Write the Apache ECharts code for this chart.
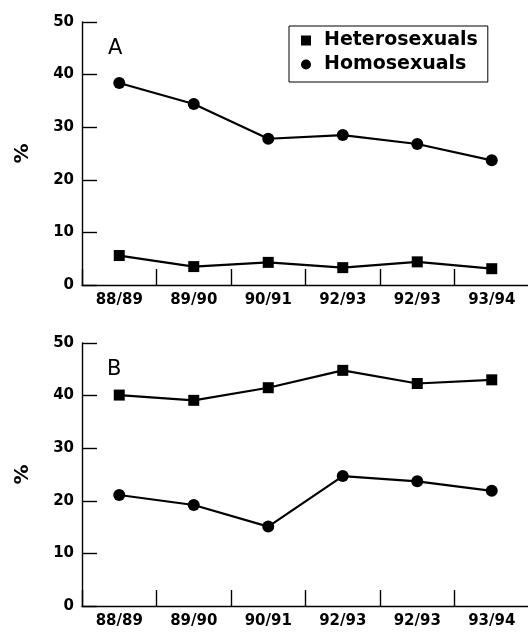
<!DOCTYPE html>
<html>
<head>
<meta charset="utf-8">
<script src="https://cdn.jsdelivr.net/npm/echarts@6/dist/echarts.min.js"></script>
<style>
html,body{margin:0;padding:0;background:#fff;}
#chart{width:528px;height:632px;}
</style>
</head>
<body>
<div id="chart"></div>
<script>
const categories = ['88/89', '89/90', '90/91', '92/93', '92/93', '93/94'];
const yTicks = [0, 10, 20, 30, 40, 50];
const heteroA = [5.6, 3.5, 4.3, 3.3, 4.4, 3.1];
const homoA = [38.4, 34.4, 27.8, 28.5, 26.8, 23.7];
const heteroB = [40.1, 39.1, 41.5, 44.8, 42.3, 43.0];
const homoB = [21.1, 19.2, 15.1, 24.7, 23.7, 21.9];
const panelLabels = ['A', 'B'];
const seriesNames = ['Heterosexuals', 'Homosexuals'];

const FONT = 'DejaVu Sans';
const chart = echarts.init(document.getElementById('chart'), null, {renderer: 'canvas'});

function xAxisFor(gi) {
  return {
    type: 'category', gridIndex: gi, data: categories, boundaryGap: true,
    axisLine: {lineStyle: {color: '#000', width: 1.4}},
    axisTick: {show: true, inside: true, length: 16, interval: 0, lineStyle: {color: '#000', width: 1.4}},
    axisLabel: {interval: 0, margin: 8, color: '#000', fontFamily: FONT, fontWeight: 'bold', fontSize: 15},
    splitLine: {show: false}
  };
}
function yAxisFor(gi) {
  return {
    type: 'value', gridIndex: gi, min: yTicks[0], max: yTicks[yTicks.length - 1], interval: 10,
    name: '%', nameLocation: 'middle', nameGap: 49,
    nameTextStyle: {color: '#000', fontFamily: FONT, fontWeight: 'bold', fontSize: 20},
    axisLine: {show: true, lineStyle: {color: '#000', width: 1.4}},
    axisTick: {show: true, inside: true, length: 15, lineStyle: {color: '#000', width: 1.4}},
    axisLabel: {margin: 8, color: '#000', fontFamily: FONT, fontWeight: 'bold', fontSize: 15},
    splitLine: {show: false}
  };
}
function lineSeries(name, data, gi, symbol, size) {
  return {
    name: name, type: 'line', xAxisIndex: gi, yAxisIndex: gi, data: data,
    symbol: symbol, symbolSize: size, showSymbol: true,
    lineStyle: {color: '#000', width: 2.2},
    itemStyle: {color: '#000'},
    emphasis: {disabled: true}
  };
}

chart.setOption({
  animation: false,
  backgroundColor: '#fff',
  grid: [
    {left: 82, top: 22, width: 447, height: 263, outerBoundsMode: 'none'},
    {left: 82, top: 343, width: 447, height: 263, outerBoundsMode: 'none'}
  ],
  title: [
    {text: panelLabels[0], left: 108, top: 38, padding: 0, textStyle: {color: '#000', fontFamily: FONT, fontWeight: 'normal', fontSize: 21}},
    {text: panelLabels[1], left: 107, top: 359, padding: 0, textStyle: {color: '#000', fontFamily: FONT, fontWeight: 'normal', fontSize: 21}}
  ],
  legend: {
    orient: 'vertical', left: 289, top: 26,
    padding: [5, 10, 8, 12],
    itemWidth: 10, itemHeight: 10, itemGap: 5,
    borderColor: '#000', borderWidth: 1,
    selectedMode: false,
    textStyle: {color: '#000', fontFamily: FONT, fontWeight: 'bold', fontSize: 19, lineHeight: 19, padding: [0, 0, 0, 8]},
    data: [{name: seriesNames[0], icon: 'rect'}, {name: seriesNames[1], icon: 'circle'}]
  },
  xAxis: [xAxisFor(0), xAxisFor(1)],
  yAxis: [yAxisFor(0), yAxisFor(1)],
  series: [
    lineSeries(seriesNames[0], heteroA, 0, 'rect', 11),
    lineSeries(seriesNames[1], homoA, 0, 'circle', 12),
    lineSeries(seriesNames[0], heteroB, 1, 'rect', 11),
    lineSeries(seriesNames[1], homoB, 1, 'circle', 12)
  ]
});
</script>
</body>
</html>
